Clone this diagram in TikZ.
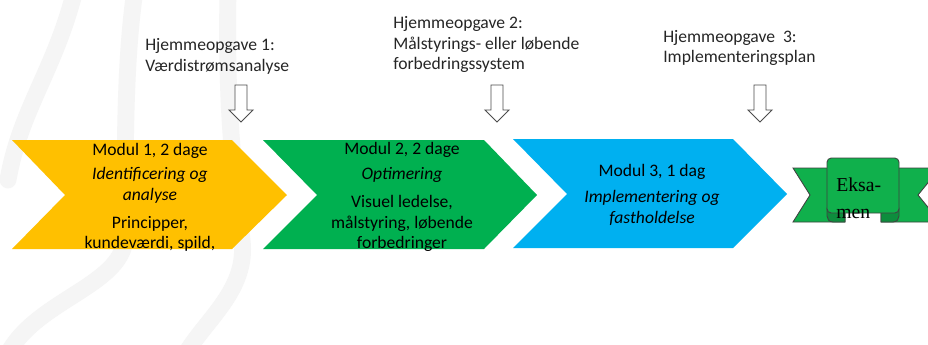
\documentclass[tikz,border=0pt]{standalone}
\usepackage{fontspec}
\setmainfont{Carlito}
\newfontfamily\bannerfont{Liberation Serif}
\definecolor{mdyellow}{RGB}{255,192,0}
\definecolor{mdgreen}{RGB}{0,176,80}
\definecolor{mdblue}{RGB}{0,176,240}
\definecolor{exgreen}{RGB}{16,176,76}
\definecolor{wmgray}{RGB}{245,245,245}

\begin{document}
\begin{tikzpicture}[x=0.025cm,y=-0.025cm,
  modtext/.style={align=center, font=\fontsize{12.5}{14.5}\selectfont, inner sep=0pt},
  hwtext/.style={align=left, anchor=west, font=\fontsize{12.5}{14.8}\selectfont, text=black!85, inner sep=0pt},
  hwarrow/.style={draw=black!70, fill=white, line width=0.6pt, line join=miter},
  wmline/.style={wmgray, line width=12pt, line cap=round},
  bannerline/.style={draw=black!75, line width=0.6pt, fill=exgreen}]
  \fill[white] (0,0) rectangle (928,344);
  \useasboundingbox (0,0) rectangle (928,344);

  %% Faint background strokes
  \draw[wmline] (75,-10) .. controls (55,70) and (20,110) .. (8,180);
  \draw[wmline] (135,-10) .. controls (125,60) and (125,140) .. (125,240) .. controls (120,285) and (40,300) .. (10,350);
  \draw[wmline] (228,-10) .. controls (226,100) and (232,160) .. (242,240) .. controls (248,290) and (205,320) .. (185,355);

  %% Module chevrons
  \fill[mdyellow] (12,140) -- (232,140) -- (287,195) -- (232,249) -- (12,249) -- (65,195) -- cycle;
  \fill[mdgreen]  (263,140) -- (484,140) -- (537,195) -- (484,249) -- (263,249) -- (317,195) -- cycle;
  \fill[mdblue]   (513,139) -- (733,139) -- (787,194) -- (733,248) -- (513,248) -- (567,194) -- cycle;

  \node[modtext] (m1) at (150,197.5) {Modul 1, 2 dage\\[2.5pt] \textit{Identificering og}\\ \textit{analyse}\\[5.5pt] Principper,\\ kundeværdi, spild,};
  \node[modtext] (m2) at (402,197) {Modul 2, 2 dage\\[3pt] \textit{Optimering}\\[6pt] Visuel ledelse,\\ målstyring, løbende\\ forbedringer};
  \node[modtext] (m3) at (652,195) {Modul 3, 1 dag\\[4pt] \textit{Implementering og}\\ \textit{fastholdelse}};

  %% Home assignments
  \node[hwtext] (hw1) at (145,56.5) {Hjemmeopgave 1:\\Værdistrømsanalyse};
  \node[hwtext] (hw2) at (393,44.5) {Hjemmeopgave 2:\\Målstyrings- eller løbende\\forbedringssystem};
  \node[hwtext] (hw3) at (663,48) {Hjemmeopgave\ \ 3:\\Implementeringsplan};

  \foreach \x in {241,497,760}
    \draw[hwarrow] (\x-6,85) -- (\x+6,85) -- (\x+6,110) -- (\x+12,110) -- (\x,122) -- (\x-12,110) -- (\x-6,110) -- cycle;

  %% Exam ribbon
  \draw[bannerline] (793,168) -- (845,168) -- (845,222) -- (793,222) -- (810,195) -- cycle;
  \draw[bannerline] (881,168) -- (940,168) -- (918,195) -- (940,222) -- (881,222) -- cycle;
  \draw[bannerline, fill=exgreen!80!black] (827,208) -- (845,208) -- (845,222) -- (833,222) .. controls (829,222) and (827,219) .. (827,216) -- cycle;
  \draw[bannerline, fill=exgreen!80!black] (881,208) -- (899,208) -- (899,216) .. controls (899,219) and (897,222) .. (893,222) -- (881,222) -- cycle;
  \draw[bannerline, rounded corners=3pt] (827,213) -- (827,158) -- (899,158) -- (899,213) -- cycle;
  \node[anchor=west, align=left, inner sep=0pt, font=\bannerfont\fontsize{14}{19}\selectfont] (exam) at (836,198) {Eksa-\\men};
\end{tikzpicture}
\end{document}
